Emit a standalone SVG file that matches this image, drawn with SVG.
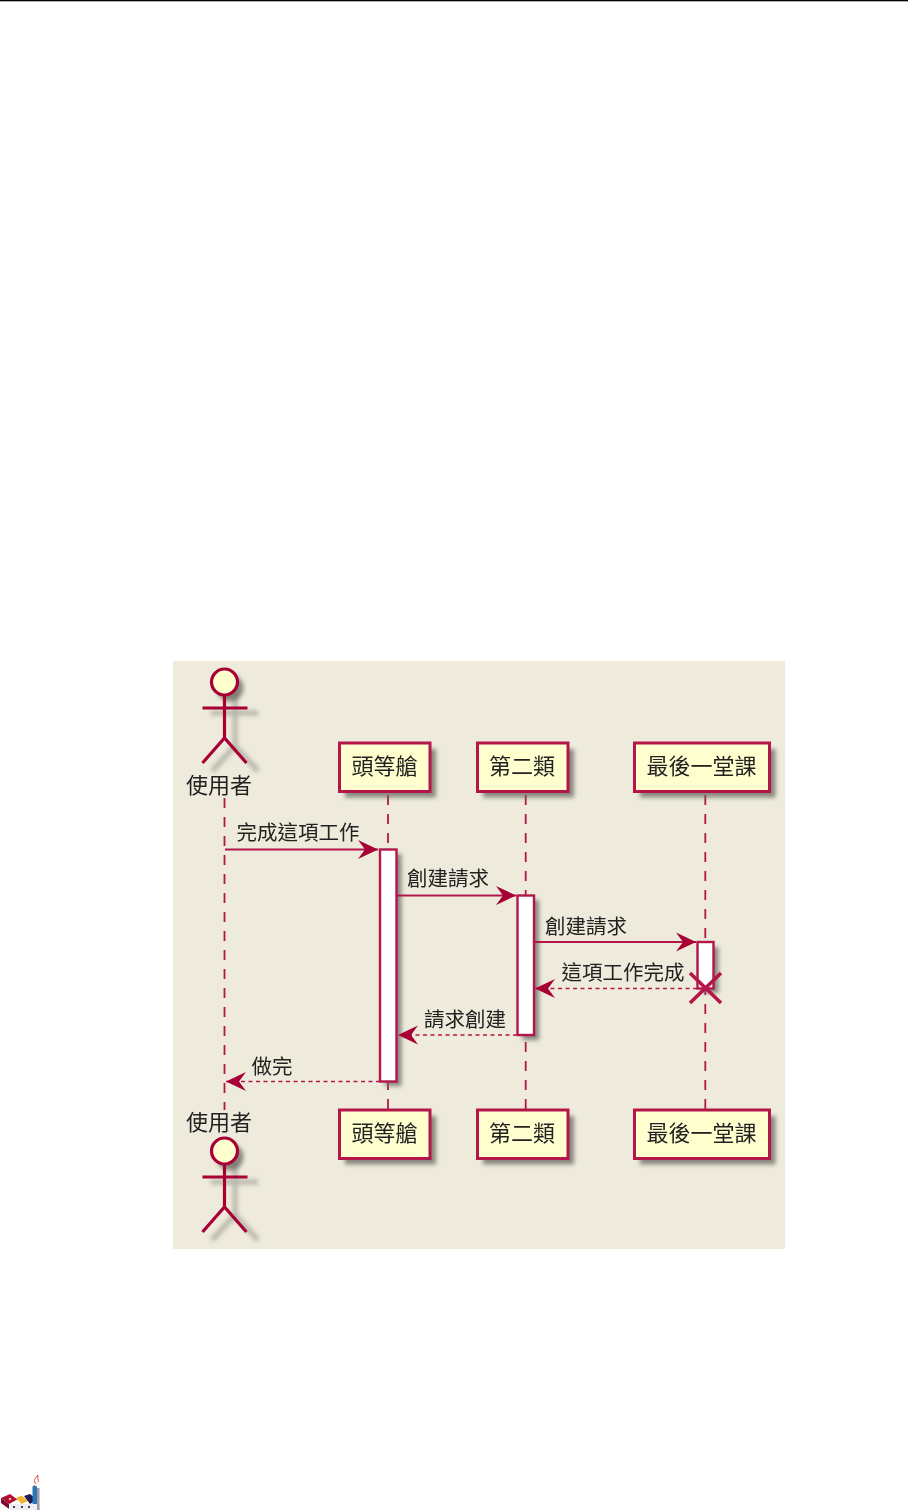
<svg xmlns="http://www.w3.org/2000/svg" width="908" height="1510" viewBox="0 0 908 1510">
<style>
text{font-family:"Noto Sans CJK TC","Noto Sans CJK SC",sans-serif;fill:#222;}
.t{font-size:22px;text-anchor:middle;}
.m{font-size:20.5px;text-anchor:middle;}
.box{fill:#FEFECE;stroke:#B5164A;stroke-width:3;}
.act{fill:#fff;stroke:#B5164A;stroke-width:2.4;}
.life{stroke:#B5164A;stroke-width:1.800;stroke-dasharray:10 9;fill:none;}
.msg{stroke:#B5164A;stroke-width:1.800;fill:none;}
.dash{stroke-width:1.500;stroke-dasharray:4 3.500;}
.lim{fill:none;stroke:#A80036;stroke-width:3.2;}
.head{fill:#FEFECE;stroke:#A80036;stroke-width:3.2;}
.shadow{fill:#66665f;opacity:.75;filter:url(#b);}
.lsh{fill:none;stroke:#66665f;stroke-width:5;opacity:.4;filter:url(#b);}
</style>
<defs>
<filter id="b" x="-30%" y="-30%" width="160%" height="160%"><feGaussianBlur stdDeviation="2"/></filter>
<filter id="soft" x="-2%" y="-2%" width="104%" height="104%"><feGaussianBlur stdDeviation="0.6"/></filter>
<filter id="soft2" x="-10%" y="-10%" width="120%" height="120%"><feGaussianBlur stdDeviation="0.4"/></filter>
<marker id="ah" viewBox="0 0 22 22" refX="20" refY="11" markerWidth="22" markerHeight="22" markerUnits="userSpaceOnUse" orient="auto"><path d="M0 1.500 L20 11 L0 20.500 L7 11 Z" fill="#A80036"/></marker>
<symbol id="actor" overflow="visible">
<path class="lsh" d="M38 52 H85 M62 30 V85 M39 110 L62 85 L85 110"/>
<circle cx="57" cy="27" r="13.500" class="shadow"/>
<circle cx="51.500" cy="21" r="13" class="head"/>
<path class="lim" d="M29.500 47 H74.500 M51.500 34 V77 M29.500 102 L51.500 77 L73.500 102"/>
</symbol>
</defs>
<rect width="908" height="1510" fill="#fff"/>
<rect x="0" y="0" width="908" height="1.300" fill="#000"/>
<g filter="url(#soft)">
<rect id="background" x="173" y="661" width="612" height="588" fill="#EEEBDC"/>
<g id="lifelines">
<path class="life" d="M224.500 798V1110"/>
<path class="life" d="M388 795V1110"/>
<path class="life" d="M525.700 795V1110"/>
<path class="life" d="M705.300 795V1110"/>
</g>
<g id="activation-1"><rect x="385" y="854" width="16.500" height="232" class="shadow"/><rect x="380" y="849.500" width="16.500" height="232" class="act"/></g>
<g id="activation-2"><rect x="522.500" y="900" width="16.500" height="140" class="shadow"/><rect x="517.500" y="895.500" width="16.500" height="139.500" class="act"/></g>
<g id="activation-3"><rect x="702.500" y="947" width="16" height="46" class="shadow"/><rect x="697.500" y="942" width="16" height="46.500" class="act"/></g>
<g id="connectors">
<path class="msg" marker-end="url(#ah)" d="M225 849.500H378"/>
<path class="msg" marker-end="url(#ah)" d="M397 895.500H516"/>
<path class="msg" marker-end="url(#ah)" d="M534 942H696"/>
<path class="msg dash" marker-end="url(#ah)" d="M697 988.500H535"/>
<path class="msg dash" marker-end="url(#ah)" d="M517 1035H398"/>
<path class="msg dash" marker-end="url(#ah)" d="M380 1081.500H226"/>
<path d="M690 973L721 1003M721 973L690 1003" stroke="#B5164A" stroke-width="3.600" fill="none"/>
</g>
<g id="actor-top"><use href="#actor" x="173" y="661"/><text class="t" x="219" y="793">使用者</text></g>
<g id="actor-bottom"><use href="#actor" x="173" y="1130"/><text class="t" x="219" y="1130">使用者</text></g>
<g id="p1-top"><rect x="345" y="749" width="91" height="48.500" class="shadow"/><rect x="339.500" y="743" width="90.500" height="48.500" class="box"/><text class="t" x="384.500" y="774">頭等艙</text></g>
<g id="p2-top"><rect x="483" y="749" width="91" height="48.500" class="shadow"/><rect x="477.500" y="743" width="90.500" height="48.500" class="box"/><text class="t" x="522" y="774">第二類</text></g>
<g id="p3-top"><rect x="640" y="749" width="135.500" height="48.500" class="shadow"/><rect x="634.500" y="743" width="135" height="48.500" class="box"/><text class="t" x="701.500" y="774">最後一堂課</text></g>
<g id="p1-bottom"><rect x="345" y="1116" width="91" height="48.500" class="shadow"/><rect x="339.500" y="1110" width="90.500" height="48.500" class="box"/><text class="t" x="384.500" y="1141">頭等艙</text></g>
<g id="p2-bottom"><rect x="483" y="1116" width="91" height="48.500" class="shadow"/><rect x="477.500" y="1110" width="90.500" height="48.500" class="box"/><text class="t" x="522" y="1141">第二類</text></g>
<g id="p3-bottom"><rect x="640" y="1116" width="135.500" height="48.500" class="shadow"/><rect x="634.500" y="1110" width="135" height="48.500" class="box"/><text class="t" x="701.500" y="1141">最後一堂課</text></g>
<g id="labels">
<text class="m" x="298" y="840">完成這項工作</text>
<text class="m" x="448" y="886">創建請求</text>
<text class="m" x="586" y="934">創建請求</text>
<text class="m" x="623" y="980">這項工作完成</text>
<text class="m" x="465" y="1027">請求創建</text>
<text class="m" x="272" y="1074">做完</text>
</g>
</g>
<g id="logo" filter="url(#soft2)">
<path d="M10 1504H40V1510H10Z" fill="#EDEDF4"/>
<path d="M1 1498L10 1494L17.300 1499.500L9 1504Z" fill="#B01030"/>
<path d="M1 1498L9 1504V1509L1 1503Z" fill="#7A1030"/>
<circle cx="10" cy="1499" r="1.300" fill="#E8B0B0"/>
<path d="M16 1498L21.500 1495.500L28 1501L21.500 1504Z" fill="#F2B430"/>
<path d="M24 1496L30 1494L37 1499.500L30 1504Z" fill="#1A1A55"/>
<rect x="32.500" y="1487" width="4.500" height="17" fill="#2878B8"/>
<path d="M32 1487L34.500 1485L37.500 1487Z" fill="#707078"/>
<rect x="37" y="1488" width="2.500" height="22" fill="#9A9AA0"/>
<path d="M13 1506h2v2h-2zM21 1506h2v2h-2zM28 1506h2v2h-2z" fill="#445"/>
<path d="M36 1484C33 1481 35 1478 38 1475C37 1478 39 1480 38 1482" fill="none" stroke="#D84848" stroke-width="1"/>
</g>
</svg>
